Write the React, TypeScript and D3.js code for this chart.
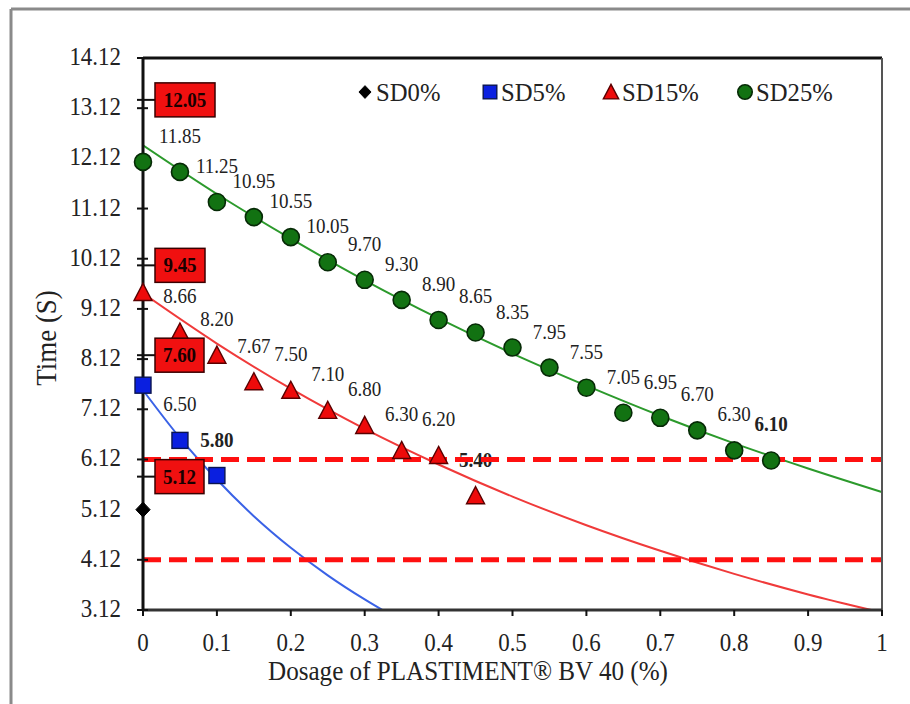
import React from 'react';
import * as d3 from 'd3';

// ---- data ----
const dosage = [0, 0.05, 0.1, 0.15, 0.2, 0.25, 0.3, 0.35, 0.4, 0.45, 0.5, 0.55, 0.6, 0.65, 0.7, 0.75, 0.8, 0.85];
const sd0 = [5.12];
const sd5 = [7.6, 6.5, 5.8];
const sd15 = [9.45, 8.66, 8.2, 7.67, 7.5, 7.1, 6.8, 6.3, 6.2, 5.4];
const sd25 = [12.05, 11.85, 11.25, 10.95, 10.55, 10.05, 9.7, 9.3, 8.9, 8.65, 8.35, 7.95, 7.55, 7.05, 6.95, 6.7, 6.3, 6.1];

// trend lines
const trendX5 = [0, 0.05, 0.1, 0.15, 0.2, 0.25, 0.3, 0.35];
const trend5 = [7.5, 6.55, 5.72, 4.99, 4.36, 3.81, 3.33, 2.9];
const trendX15 = [0, 0.1, 0.2, 0.3, 0.4, 0.5, 0.6, 0.7, 0.8, 0.9, 1.0];
const trend15 = [9.43, 8.43, 7.53, 6.73, 6.02, 5.38, 4.81, 4.3, 3.84, 3.43, 3.07];
const trendX25 = [0, 0.1, 0.2, 0.3, 0.4, 0.5, 0.6, 0.7, 0.8, 0.9, 1.0];
const trend25 = [12.38, 11.41, 10.52, 9.69, 8.93, 8.23, 7.59, 6.99, 6.44, 5.94, 5.47];

const limitLines = [6.12, 4.12];
const yTicks = [3.12, 4.12, 5.12, 6.12, 7.12, 8.12, 9.12, 10.12, 11.12, 12.12, 13.12, 14.12];
const xTicks = [0, 0.1, 0.2, 0.3, 0.4, 0.5, 0.6, 0.7, 0.8, 0.9, 1];
const xTickLabels = ['0', '0.1', '0.2', '0.3', '0.4', '0.5', '0.6', '0.7', '0.8', '0.9', '1'];
const seriesNames = ['SD0%', 'SD5%', 'SD15%', 'SD25%'];

// ---- layout / style ----
const W = 910, H = 704;
const L = 143, R = 882, T = 58, B = 610;
const FONT = '"Liberation Serif", "Times New Roman", serif';

const x = d3.scaleLinear().domain([0, 1]).range([L, R]);
const y = d3.scaleLinear().domain([3.12, 14.12]).range([B, T]);

const styles = [
  { shape: 'diamond', fill: '#000000', stroke: '#000000', line: '#000000' },
  { shape: 'square', fill: '#0a1fe0', stroke: '#0a1450', line: '#3a62e6' },
  { shape: 'triangle', fill: '#ee0a0a', stroke: '#5a0000', line: '#f03a3a' },
  { shape: 'circle', fill: '#127212', stroke: '#062a06', line: '#2c9a2c' },
];
// box label offsets (center y relative to first point) and widths
const boxLayout = [
  { dy: -33, w: 49 },
  { dy: -30, w: 49 },
  { dy: -27, w: 50 },
  { dy: -62, w: 60 },
];

function Marker({ shape, cx, cy, fill, stroke, s = 1 }: any) {
  if (shape === 'circle') return <circle cx={cx} cy={cy} r={8.5 * s} fill={fill} stroke={stroke} strokeWidth={1.6} />;
  if (shape === 'square') { const h = 8 * s; return <rect x={cx - h} y={cy - h} width={2 * h} height={2 * h} fill={fill} stroke={stroke} strokeWidth={1.4} />; }
  if (shape === 'triangle') { const w = 9 * s, h = 9 * s; return <path d={`M${cx},${cy - h}L${cx + w},${cy + h * 0.9}L${cx - w},${cy + h * 0.9}Z`} fill={fill} stroke={stroke} strokeWidth={1.4} />; }
  const d = 7.5 * s;
  return <path d={`M${cx},${cy - d}L${cx + d * 0.95},${cy}L${cx},${cy + d}L${cx - d * 0.95},${cy}Z`} fill={fill} stroke={stroke} strokeWidth={1} />;
}

// condensed text (reference text is slightly narrow)
function CText({ x: tx, y: ty, sx = 0.92, anchor = 'start', size, weight = 'normal', fill = '#222', children }: any) {
  return (
    <text transform={`translate(${tx},${ty}) scale(${sx},1)`} textAnchor={anchor} fontSize={size} fontWeight={weight} fill={fill}>
      {children}
    </text>
  );
}

export default function App() {
  const allSeries = [sd0, sd5, sd15, sd25];
  const line = d3.line<number>().curve(d3.curveMonotoneX);
  const trends = [
    { xs: trendX5, ys: trend5, color: styles[1].line },
    { xs: trendX15, ys: trend15, color: styles[2].line },
    { xs: trendX25, ys: trend25, color: styles[3].line },
  ];
  const legendX = [365, 490, 611, 745];

  return (
    <svg width={W} height={H} style={{ position: 'absolute', left: 0, top: 0, background: '#fff', fontFamily: FONT }}>
      <rect x={0} y={0} width={W} height={H} fill="#fff" />
      {/* outer frame */}
      <line x1={11} y1={9} x2={W} y2={9} stroke="#8a8a8a" strokeWidth={3} />
      <line x1={11} y1={9} x2={11} y2={H} stroke="#8a8a8a" strokeWidth={3} />
      <defs>
        <clipPath id="plot"><rect x={L} y={T} width={R - L} height={B - T} /></clipPath>
      </defs>

      {/* trend lines */}
      <g clipPath="url(#plot)">
        {trends.map((t, i) => (
          <path key={i} d={line.x((_, j) => x(t.xs[j])).y((v) => y(v))(t.ys) || ''} fill="none" stroke={t.color} strokeWidth={2} />
        ))}
      </g>

      {/* data labels */}
      {allSeries.map((vals, si) =>
        vals.map((v, i) => {
          if (i === 0) return null;
          const bold = i === vals.length - 1;
          return (
            <CText key={`l${si}-${i}`} x={x(dosage[i])} y={y(v) - 29} anchor="middle" size={20} sx={0.95}
              weight={bold ? 'bold' : 'normal'}>{v.toFixed(2)}</CText>
          );
        })
      )}

      {/* limit lines */}
      {limitLines.map((v) => (
        <line key={v} x1={L} x2={R} y1={y(v)} y2={y(v)} stroke="#ff1010" strokeWidth={5} strokeDasharray="18 8" />
      ))}

      {/* axes */}
      <line x1={L} y1={T} x2={R} y2={T} stroke="#111" strokeWidth={3} />
      <line x1={R} y1={T} x2={R} y2={B} stroke="#555" strokeWidth={2} />
      <line x1={L} y1={B} x2={R} y2={B} stroke="#333" strokeWidth={3} />
      <line x1={L} y1={T} x2={L} y2={B} stroke="#111" strokeWidth={3} />
      {yTicks.map((t) => (
        <g key={t}>
          <line x1={L - 6} x2={L + 5} y1={y(t)} y2={y(t)} stroke="#111" strokeWidth={2} />
          <CText x={121} y={y(t) + 7} anchor="end" size={25.5} sx={0.9}>{t.toFixed(2)}</CText>
        </g>
      ))}
      {xTicks.map((t, i) => (
        <g key={t}>
          <line x1={x(t)} x2={x(t)} y1={B} y2={B + 6} stroke="#111" strokeWidth={2} />
          <CText x={x(t)} y={651} anchor="middle" size={25.5} sx={0.9}>{xTickLabels[i]}</CText>
        </g>
      ))}
      <CText x={468} y={680} anchor="middle" size={27} sx={0.93}>Dosage of PLASTIMENT® BV 40 (%)</CText>
      <text transform="translate(56,338) rotate(-90) scale(0.93,1)" textAnchor="middle" fontSize={29} fill="#222">Time (S)</text>

      {/* markers */}
      {allSeries.map((vals, si) =>
        vals.map((v, i) => (
          <Marker key={`m${si}-${i}`} shape={styles[si].shape} cx={x(dosage[i])} cy={y(v)} fill={styles[si].fill} stroke={styles[si].stroke} />
        ))
      )}

      {/* boxed first values */}
      {allSeries.map((vals, si) => {
        const cy = y(vals[0]) + boxLayout[si].dy;
        const bx = 155, bw = boxLayout[si].w, bh = 34;
        return (
          <g key={`b${si}`}>
            <line x1={L - 6} x2={bx} y1={cy} y2={cy} stroke="#111" strokeWidth={2} />
            <rect x={bx} y={cy - bh / 2} width={bw} height={bh} fill="#f01010" stroke="#3a0000" strokeWidth={1.5} />
            <CText x={bx + bw / 2} y={cy + 7} anchor="middle" size={20} sx={0.95} weight="bold" fill="#1a0000">{vals[0].toFixed(2)}</CText>
          </g>
        );
      })}

      {/* legend */}
      {seriesNames.map((n, i) => (
        <g key={n}>
          <Marker shape={styles[i].shape} cx={legendX[i]} cy={92} fill={styles[i].fill} stroke={styles[i].stroke} s={0.85} />
          <CText x={legendX[i] + 11} y={101} size={26} sx={0.95}>{n}</CText>
        </g>
      ))}
    </svg>
  );
}
